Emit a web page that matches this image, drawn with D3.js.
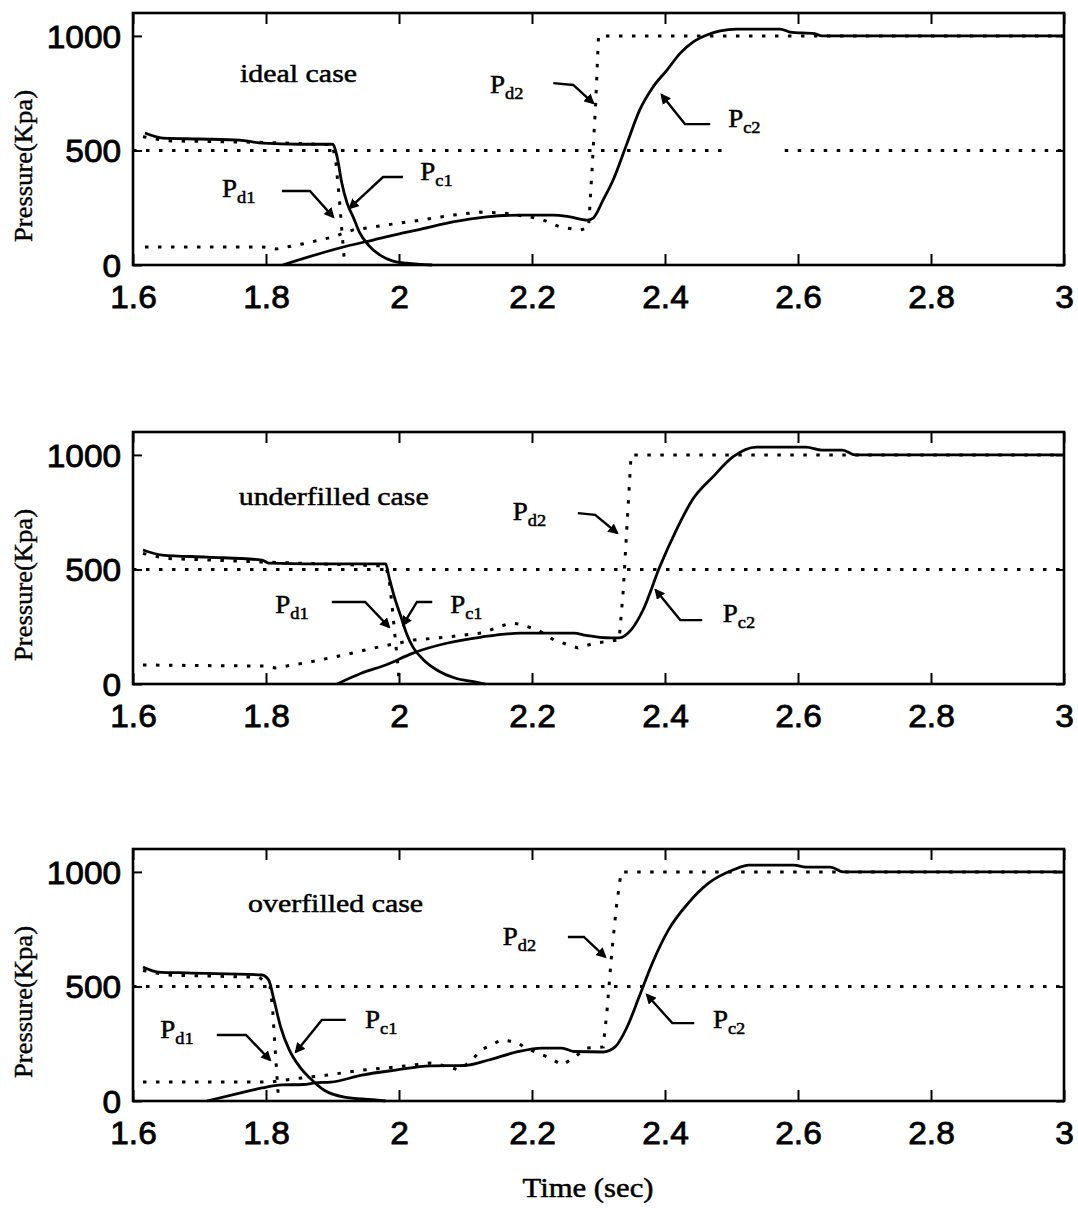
<!DOCTYPE html>
<html>
<head>
<meta charset="utf-8">
<script src="https://cdn.jsdelivr.net/npm/d3@7"></script>
<style>
  body { margin: 0; background: #fff; }
  svg { display: block; }
</style>
</head>
<body>
<svg id="fig" width="1078" height="1208"></svg>
<script>
// ---- axis ticks and titles ----
const timeTicks = [1.6, 1.8, 2, 2.2, 2.4, 2.6, 2.8, 3];
const pressureTicks = [0, 500, 1000];
const caseTitles = ["ideal case", "underfilled case", "overfilled case"];
// where each case title sits, in [time, pressure]
const titleAnchors = [[1.761, 799], [1.759, 781], [1.773, 825]];

// ---- ideal case ----
const idealPc1 = [[1.618,576],[1.645,554],[1.70,550],[1.76,545],[1.795,532],[1.85,527],[1.90,527],[1.907,471],[1.914,358],[1.922,270],[1.931,210],[1.941,140],[1.954,87],[1.971,44],[1.991,17],[2.012,8],[2.05,0]];
const idealPd1 = [[1.615,560],[1.65,542],[1.80,535],[1.90,525],[1.905,450],[1.910,300],[1.914,150],[1.917,50],[1.918,0]];
const idealPc2 = [[1.825,0],[1.922,83],[1.961,109],[2.012,144],[2.032,156],[2.081,188],[2.132,210],[2.182,218],[2.232,218],[2.257,210],[2.283,196],[2.292,205],[2.307,284],[2.322,371],[2.343,532],[2.362,677],[2.382,777],[2.403,851],[2.423,925],[2.442,973],[2.463,1004],[2.483,1022],[2.508,1030],[2.573,1030],[2.588,1017],[2.625,1010],[2.636,1000],[3.0,1000]];
const idealPd2 = [[1.618,79],[1.795,79],[1.816,70],[1.862,96],[1.90,122],[1.931,153],[1.982,175],[2.032,196],[2.081,218],[2.122,231],[2.156,227],[2.197,210],[2.217,196],[2.242,166],[2.272,153],[2.285,160],[2.29,400],[2.296,720],[2.30,1000],[3.0,1000]];
const idealLevel = [[1.6,2.49],[2.58,3.0]];   // 500 kPa line spans

// ---- underfilled case ----
const underPc1 = [[1.615,585],[1.644,563],[1.711,554],[1.794,541],[1.804,528],[1.907,524],[1.980,524],[1.985,467],[1.993,380],[2.003,293],[2.011,223],[2.021,161],[2.037,105],[2.057,61],[2.084,26],[2.114,9],[2.13,0]];
const underPd1 = [[1.615,570],[1.65,548],[1.80,532],[1.98,515],[1.985,460],[1.99,330],[1.995,180],[1.999,60],[2.0,0]];
const underPc2 = [[1.907,0],[1.944,48],[1.98,83],[2.021,135],[2.073,179],[2.124,205],[2.183,222],[2.263,222],[2.281,212],[2.319,201],[2.331,201],[2.349,236],[2.367,323],[2.392,511],[2.417,672],[2.441,803],[2.472,904],[2.502,991],[2.537,1034],[2.612,1034],[2.636,1021],[2.667,1021],[2.686,1000],[3.0,1000]];
const underPd2 = [[1.615,83],[1.799,78],[1.814,70],[1.866,96],[1.918,127],[1.97,162],[2.022,192],[2.073,205],[2.125,223],[2.167,266],[2.18,262],[2.209,236],[2.233,192],[2.269,157],[2.295,179],[2.331,192],[2.337,400],[2.343,700],[2.349,1000],[3.0,1000]];
const underLevel = [[1.6,3.0]];

// ---- overfilled case ----
const overPc1 = [[1.615,585],[1.638,563],[1.68,559],[1.794,550],[1.804,528],[1.812,441],[1.822,323],[1.835,223],[1.851,148],[1.866,100],[1.887,48],[1.918,17],[1.96,6],[1.98,0]];
const overPd1 = [[1.615,570],[1.65,550],[1.79,540],[1.806,500],[1.81,400],[1.813,260],[1.816,130],[1.819,0]];
const overPc2 = [[1.711,0],[1.762,35],[1.794,57],[1.824,70],[1.856,72],[1.877,80],[1.897,82],[1.944,113],[1.995,135],[2.047,153],[2.099,155],[2.135,179],[2.177,214],[2.215,231],[2.245,231],[2.263,216],[2.307,214],[2.325,236],[2.343,323],[2.361,454],[2.381,602],[2.405,746],[2.435,864],[2.466,952],[2.502,1008],[2.526,1030],[2.594,1030],[2.612,1021],[2.649,1021],[2.668,1000],[3.0,1000]];
const overPd2 = [[1.615,83],[1.809,83],[1.84,96],[1.892,113],[1.944,135],[1.995,148],[2.047,166],[2.075,150],[2.089,135],[2.107,170],[2.123,222],[2.153,266],[2.177,258],[2.19,231],[2.227,188],[2.245,157],[2.263,188],[2.281,231],[2.307,236],[2.313,400],[2.32,650],[2.327,850],[2.334,1000],[3.0,1000]];
const overLevel = [[1.6,3.0]];

// ---- callouts: label anchor [time, pressure] and arrow path ending at its tip ----
const idealNotes = [
  { sub: "d1", at: [1.734, 297], arrow: [[1.824,323],[1.866,323],[1.901,210]] },
  { sub: "c1", at: [2.032, 371], arrow: [[2.006,384],[1.976,384],[1.926,249]] },
  { sub: "d2", at: [2.137, 751], arrow: [[2.232,794],[2.262,786],[2.292,707]] },
  { sub: "c2", at: [2.495, 602], arrow: [[2.468,615],[2.430,615],[2.395,742]] }
];
const underNotes = [
  { sub: "d1", at: [1.814, 310], arrow: [[1.899,358],[1.949,358],[1.985,249]] },
  { sub: "c1", at: [2.077, 310], arrow: [[2.050,358],[2.027,358],[2.006,258]] },
  { sub: "d2", at: [2.171, 716], arrow: [[2.269,746],[2.295,738],[2.328,659]] },
  { sub: "c2", at: [2.487, 271], arrow: [[2.456,279],[2.423,279],[2.386,410]] }
];
const overNotes = [
  { sub: "d1", at: [1.641, 275], arrow: [[1.726,288],[1.770,288],[1.806,179]] },
  { sub: "c1", at: [1.949, 319], arrow: [[1.920,354],[1.884,354],[1.845,214]] },
  { sub: "d2", at: [2.156, 681], arrow: [[2.254,716],[2.278,716],[2.310,629]] },
  { sub: "c2", at: [2.472, 319], arrow: [[2.444,340],[2.411,340],[2.373,463]] }
];

const cases = [
  { title: caseTitles[0], titleAt: titleAnchors[0], pc1: idealPc1, pd1: idealPd1, pc2: idealPc2, pd2: idealPd2, level: idealLevel, notes: idealNotes },
  { title: caseTitles[1], titleAt: titleAnchors[1], pc1: underPc1, pd1: underPd1, pc2: underPc2, pd2: underPd2, level: underLevel, notes: underNotes },
  { title: caseTitles[2], titleAt: titleAnchors[2], pc1: overPc1, pd1: overPd1, pc2: overPc2, pd2: overPd2, level: overLevel, notes: overNotes }
];

// ---- layout ----
const svg = d3.select("#fig");
const left = 133, right = 1064, plotH = 252;
const panelTops = [13, 432, 849];
const serif = "'Liberation Serif', 'Times New Roman', Times, serif";
const sans = "'Liberation Sans', Arial, Helvetica, sans-serif";

const x = d3.scaleLinear().domain([1.6, 3.0]).range([left, right]);

svg.append("defs").append("marker")
  .attr("id", "head")
  .attr("viewBox", "0 0 10 10")
  .attr("refX", 8).attr("refY", 5)
  .attr("markerWidth", 4.4).attr("markerHeight", 4.4)
  .attr("orient", "auto")
  .append("path").attr("d", "M0,0 L10,5 L0,10 Z").attr("fill", "#000");

// heavier glyphs, as in the printed figure
function ink(sel, w) {
  return sel.attr("fill", "#000").attr("stroke", "#000").attr("stroke-width", w);
}

cases.forEach((c, i) => {
  const top = panelTops[i], bottom = top + plotH;
  const y = d3.scaleLinear().domain([0, 1100]).range([bottom, top]);
  const g = svg.append("g");

  const line = d3.line().x(d => x(d[0])).y(d => y(d[1]));
  const smooth = d3.line().x(d => x(d[0])).y(d => y(d[1])).curve(d3.curveMonotoneX);

  const dotted = p => p.attr("fill", "none").attr("stroke", "#000")
    .attr("stroke-width", 3).attr("stroke-dasharray", "3.5 9.5");

  // 500 kPa dotted level
  c.level.forEach(s => dotted(g.append("path").attr("d", line([[s[0], 500], [s[1], 500]]))));

  // demanded pressures (dotted)
  [c.pd1, c.pd2].forEach(d => dotted(g.append("path").attr("d", line(d))));

  // clutch pressures (solid)
  [c.pc1, c.pc2].forEach(d => {
    g.append("path").attr("d", smooth(d))
      .attr("fill", "none").attr("stroke", "#000")
      .attr("stroke-width", 2.8).attr("stroke-linejoin", "round");
  });

  // axes with inward ticks on all four sides
  const fmt = d => String(d);
  const xb = g.append("g").attr("transform", `translate(0,${bottom})`)
    .call(d3.axisBottom(x).tickValues(timeTicks).tickSize(-11).tickPadding(21).tickFormat(fmt));
  const xt = g.append("g").attr("transform", `translate(0,${top})`)
    .call(d3.axisTop(x).tickValues(timeTicks).tickSize(-11).tickFormat(""));
  const yl = g.append("g").attr("transform", `translate(${left},0)`)
    .call(d3.axisLeft(y).tickValues(pressureTicks).tickSize(-9).tickPadding(11).tickFormat(fmt));
  const yr = g.append("g").attr("transform", `translate(${right},0)`)
    .call(d3.axisRight(y).tickValues(pressureTicks).tickSize(-8).tickFormat(""));
  [xb, xt, yl, yr].forEach(a => {
    a.select(".domain").remove();
    a.selectAll("line").attr("stroke", "#000").attr("stroke-width", 2);
  });
  [xb, yl].forEach(a => ink(a.selectAll("text")
    .attr("font-family", sans).attr("font-size", 31)
    .attr("transform", "scale(1.08,1)"), 0.8));
  yl.selectAll("text").attr("dy", "0.36em");

  // frame
  g.append("rect").attr("x", left).attr("y", top)
    .attr("width", right - left).attr("height", plotH)
    .attr("fill", "none").attr("stroke", "#000").attr("stroke-width", 2.6);

  // y-axis title
  ink(g.append("text")
    .attr("transform", `translate(32,${top + 153}) rotate(-90)`)
    .attr("text-anchor", "middle")
    .attr("font-family", serif).attr("font-size", 25)
    .attr("textLength", 152).attr("lengthAdjust", "spacingAndGlyphs")
    .text("Pressure(Kpa)"), 0.4);

  // case title
  ink(g.append("text")
    .attr("transform", `translate(${x(c.titleAt[0])},${y(c.titleAt[1])}) scale(1.15,1)`)
    .attr("font-family", serif).attr("font-size", 26)
    .text(c.title), 0.5);

  // callouts
  c.notes.forEach(n => {
    const t = ink(g.append("text")
      .attr("transform", `translate(${x(n.at[0])},${y(n.at[1])}) scale(1.08,1)`)
      .attr("font-family", serif).attr("font-size", 25), 0.5);
    t.append("tspan").text("P");
    t.append("tspan").attr("font-size", 17).attr("dy", 6).text(n.sub);
    g.append("path").attr("d", line(n.arrow))
      .attr("fill", "none").attr("stroke", "#000").attr("stroke-width", 2.4)
      .attr("marker-end", "url(#head)");
  });
});

// shared x-axis title
ink(svg.append("text")
  .attr("x", 588).attr("y", 1197)
  .attr("text-anchor", "middle")
  .attr("font-family", serif).attr("font-size", 27)
  .attr("textLength", 131).attr("lengthAdjust", "spacingAndGlyphs")
  .text("Time (sec)"), 0.5);
</script>
</body>
</html>
